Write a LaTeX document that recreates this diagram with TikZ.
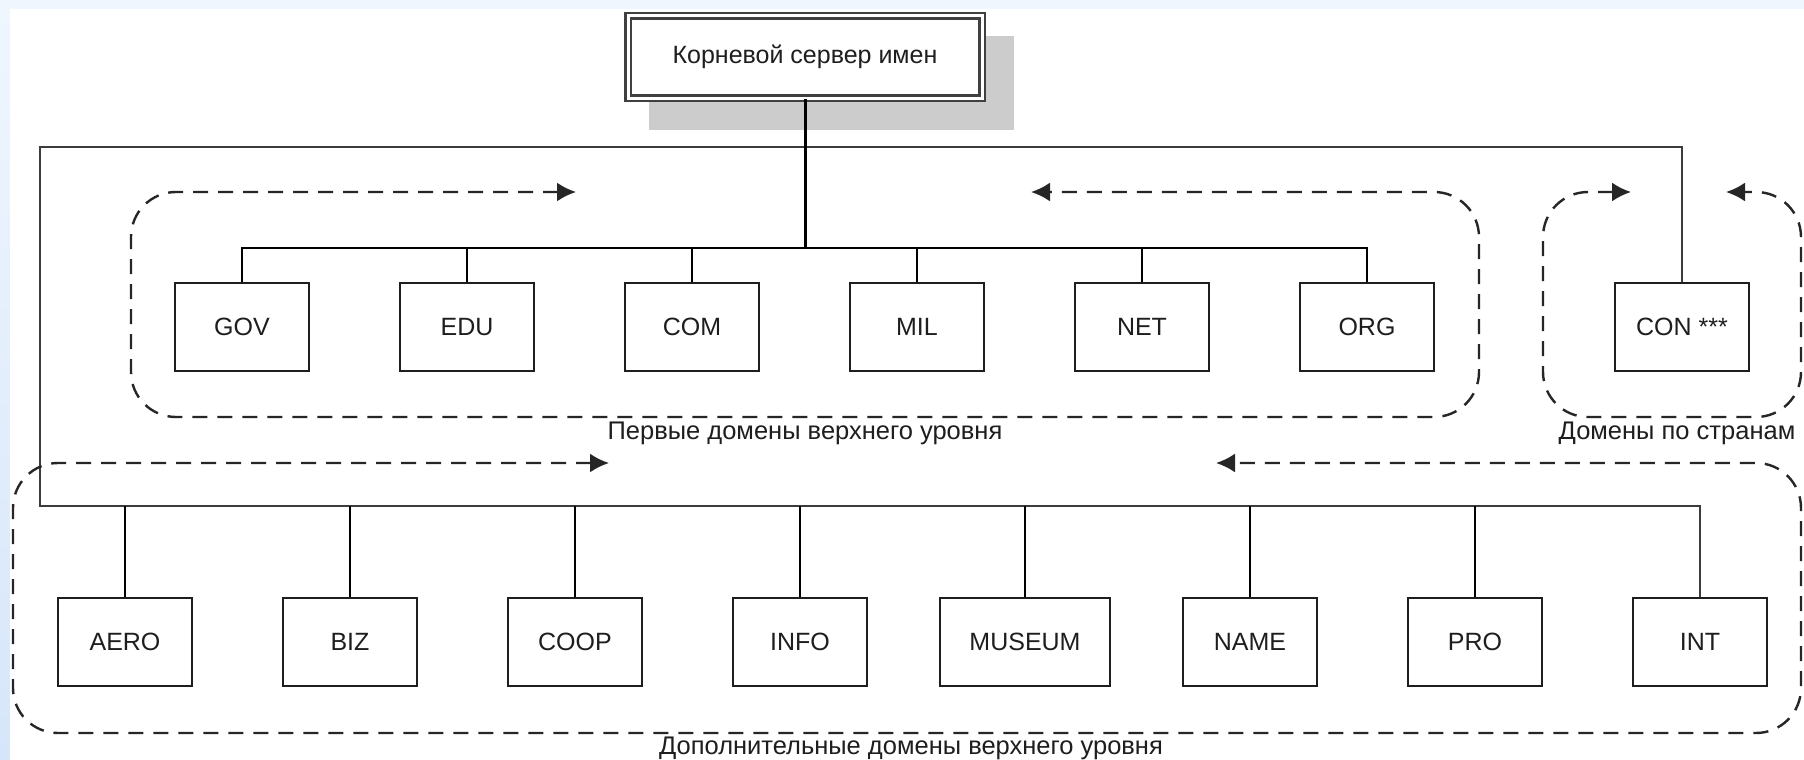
\documentclass[tikz,border=0pt]{standalone}
\usepackage{fontspec}
\setmainfont{Liberation Sans}
\usetikzlibrary{arrows.meta,calc,positioning,backgrounds}
\definecolor{bgtop}{RGB}{240,246,254}
\definecolor{bgbot}{RGB}{214,230,250}
\definecolor{ink}{RGB}{30,30,30}
\definecolor{wire}{RGB}{60,60,60}
\definecolor{shadowgray}{RGB}{204,204,204}

\begin{document}
\begin{tikzpicture}[x=1pt,y=-1pt,>={Latex[length=19pt,width=19pt]},
  font=\fontsize{25}{30}\selectfont,
  dom/.style={draw=ink,line width=2pt,minimum width=134pt,minimum height=88pt,inner sep=0pt,text=ink,fill=white},
  wide/.style={dom,minimum width=170pt},
  rootbox/.style={draw=black!75,double=white,double distance=3pt,line width=2.4pt,minimum width=354pt,minimum height=82pt,text=ink,fill=white},
  tree/.style={draw=black,line width=2pt},
  frame/.style={draw=wire,line width=2.8pt},
  group/.style={draw=black!85,line width=2.4pt,dash pattern=on 15pt off 10pt,rounded corners=45pt,<->},
  lbl/.style={text=ink,inner sep=0pt,font=\fontsize{25.5}{30}\selectfont}]
  \useasboundingbox (0,0) rectangle (1804,760);
  \begin{scope}[on background layer]
    \fill[bgtop] (0,0) rectangle (1804,760);
    \shade[top color=bgtop,bottom color=bgbot] (0,0) rectangle (10,760);
    \fill[white] (10,9) rectangle (1804,760);
  \end{scope}

  \node[rootbox] (root) at (805,57) {Корневой сервер имен};
  \begin{scope}[on background layer]
    \fill[shadowgray] ([shift={(22,31)}]root.south west) rectangle ([shift={(31,21)}]root.north east);
  \end{scope}

  \node[dom] (F1) at (242,327) {GOV};
  \node[dom] (F2) at (467,327) {EDU};
  \node[dom] (F3) at (692,327) {COM};
  \node[dom] (F4) at (917,327) {MIL};
  \node[dom] (F5) at (1142,327) {NET};
  \node[dom] (F6) at (1367,327) {ORG};
  \node[dom] (C1) at (1682,327) {CON ***};

  \node[dom] (A1) at (125,642) {AERO};
  \node[dom] (A2) at (350,642) {BIZ};
  \node[dom] (A3) at (575,642) {COOP};
  \node[dom] (A4) at (800,642) {INFO};
  \node[wide] (A5) at (1025,642) {MUSEUM};
  \node[dom] (A6) at (1250,642) {NAME};
  \node[dom] (A7) at (1475,642) {PRO};
  \node[dom] (A8) at (1700,642) {INT};

  \coordinate (hub) at (805,248);
  \coordinate (fTop) at (40,147);
  \coordinate (fBot) at (40,506);

  \draw[frame] (C1.north) |- (fTop) -- (fBot) -| (A8.north);
  \draw[tree,line width=3pt] (root.south) -- (hub);
  \draw[tree,line width=2.4pt] (F1.north) |- (hub) -| (F6.north);
  \foreach \n in {F2,F3,F4,F5} \draw[tree] (\n.north) -- (\n.north |- hub);
  \foreach \n in {A1,A2,A3,A4,A5,A6,A7} \draw[tree] (\n.north) -- (\n.north |- fBot);

  \draw[group] (576,192) -- (131,192) -- (131,417) -- (1479,417) -- (1479,192) -- (1031,192);
  \draw[group] (1631,192) -- (1543,192) -- (1543,417) -- (1801,417) -- (1801,192) -- (1726,192);
  \draw[group] (609,463) -- (13,463) -- (13,733) -- (1801,733) -- (1801,463) -- (1216,463);

  \node[lbl] (L1) at (805,433) {Первые домены верхнего уровня};
  \node[lbl] (L2) at (1677,433) {Домены по странам};
  \node[lbl] (L3) at (911,748) {Дополнительные домены верхнего уровня};
\end{tikzpicture}
\end{document}
